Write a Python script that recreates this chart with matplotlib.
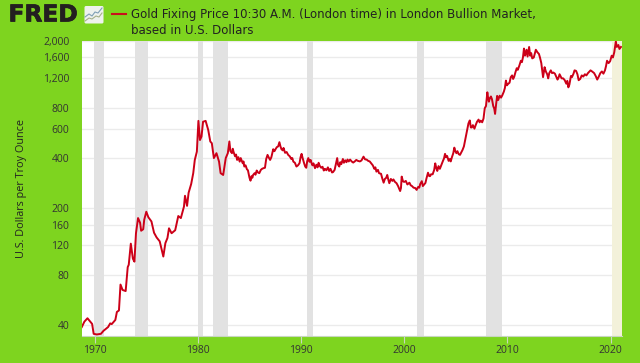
import numpy as np
import matplotlib
matplotlib.use('Agg')
import matplotlib.pyplot as plt
from matplotlib.patches import FancyBboxPatch
import matplotlib.patheffects as pe
from matplotlib.ticker import FixedLocator, FixedFormatter, NullLocator

plt.rcParams['font.family'] = ['Open Sans', 'DejaVu Sans']

# valores (año decimal, USD por onza)
years = [1968.75, 1969.0, 1969.3, 1969.5, 1969.75, 1969.9, 1970.2, 1970.6, 1970.85, 1971.3, 1971.5, 1971.65,
         1972.0, 1972.15, 1972.35, 1972.5, 1972.7, 1973.0, 1973.2, 1973.3, 1973.5, 1973.7, 1973.85, 1974.0,
         1974.2, 1974.4, 1974.5, 1974.7, 1974.8, 1975.0, 1975.2, 1975.5, 1975.75, 1976.0, 1976.3, 1976.65,
         1976.85, 1977.05, 1977.2, 1977.45, 1977.8, 1978.1, 1978.35, 1978.65, 1978.75, 1978.95, 1979.1, 1979.35,
         1979.55, 1979.7, 1979.9, 1980.05, 1980.2, 1980.35, 1980.5, 1980.75, 1981.0, 1981.2, 1981.35, 1981.55,
         1981.8, 1982.05, 1982.2, 1982.45, 1982.7, 1982.9,
         1983.05, 1983.15, 1983.3, 1983.38, 1983.45, 1983.6, 1983.7, 1983.8, 1983.92, 1984.05,
         1984.15, 1984.25, 1984.35, 1984.42, 1984.5, 1984.62, 1984.75, 1984.85, 1985.0, 1985.1,
         1985.2, 1985.28, 1985.35, 1985.5, 1985.58, 1985.7, 1985.82, 1985.95, 1986.1, 1986.22,
         1986.35, 1986.5, 1986.62, 1986.75, 1986.88, 1987.0, 1987.12, 1987.3, 1987.42, 1987.55,
         1987.65, 1987.78, 1987.9, 1988.0, 1988.1, 1988.22, 1988.3, 1988.45, 1988.6, 1988.75,
         1988.9, 1989.05, 1989.15, 1989.25, 1989.4, 1989.55, 1989.7, 1989.85, 1989.95, 1990.05,
         1990.15, 1990.28, 1990.4, 1990.5, 1990.6, 1990.7, 1990.82, 1990.92, 1991.0, 1991.1,
         1991.2, 1991.35, 1991.48, 1991.6, 1991.7, 1991.8, 1991.95, 1992.08, 1992.2, 1992.32,
         1992.45, 1992.6, 1992.72, 1992.85, 1993.0, 1993.1, 1993.25, 1993.38, 1993.5, 1993.58,
         1993.7, 1993.8, 1993.9, 1994.05, 1994.15, 1994.28, 1994.4, 1994.5, 1994.62, 1994.75,
         1994.9, 1995.05, 1995.2, 1995.35, 1995.5, 1995.7, 1995.85, 1996.05, 1996.2, 1996.35,
         1996.5, 1996.65, 1996.8, 1996.95, 1997.1, 1997.2, 1997.3, 1997.45, 1997.55, 1997.75,
         1997.85, 1998.0, 1998.12, 1998.25, 1998.35, 1998.45, 1998.55, 1998.7, 1998.85, 1998.95,
         1999.1, 1999.25, 1999.4, 1999.6, 1999.68, 1999.75, 1999.88, 2000.0, 2000.15, 2000.3,
         2000.5, 2000.62, 2000.75, 2000.9, 2001.05, 2001.2, 2001.32, 2001.45, 2001.55, 2001.7,
         2001.8, 2001.92, 2002.05, 2002.15, 2002.3, 2002.42, 2002.5, 2002.6, 2002.75, 2002.9,
         2003.0, 2003.1, 2003.2, 2003.32, 2003.45, 2003.6, 2003.75, 2003.85, 2003.95, 2004.05,
         2004.15, 2004.3, 2004.42, 2004.5, 2004.62, 2004.75, 2004.85, 2004.95, 2005.05, 2005.15,
         2005.28, 2005.4, 2005.52, 2005.65, 2005.78, 2005.9, 2006.0, 2006.1, 2006.22, 2006.35,
         2006.45, 2006.55, 2006.65, 2006.8, 2006.92, 2007.05, 2007.2, 2007.3, 2007.42, 2007.55,
         2007.68, 2007.8, 2007.92, 2008.05, 2008.12, 2008.2, 2008.3, 2008.4, 2008.5, 2008.62,
         2008.72, 2008.8, 2008.9, 2009.0, 2009.1, 2009.25, 2009.38, 2009.5, 2009.65, 2009.75,
         2009.85, 2009.95, 2010.05, 2010.2, 2010.32, 2010.45, 2010.55, 2010.65, 2010.78, 2010.9,
         2011.0, 2011.15, 2011.3, 2011.4, 2011.5, 2011.6, 2011.7, 2011.85, 2011.95, 2012.1,
         2012.2, 2012.3, 2012.4, 2012.55, 2012.75, 2012.9, 2013.05, 2013.15, 2013.28, 2013.45,
         2013.52, 2013.6, 2013.72, 2013.85, 2013.95, 2014.05, 2014.2, 2014.32, 2014.45, 2014.6,
         2014.75, 2014.85, 2014.95, 2015.05, 2015.25, 2015.4, 2015.55, 2015.7, 2015.8, 2015.9,
         2016.0, 2016.15, 2016.25, 2016.4, 2016.5, 2016.65, 2016.78, 2016.9, 2017.05, 2017.2,
         2017.35, 2017.5, 2017.65, 2017.8, 2018.05, 2018.2, 2018.4, 2018.55, 2018.7, 2018.85,
         2019.0, 2019.15, 2019.3, 2019.45, 2019.55, 2019.65, 2019.8, 2019.95, 2020.1, 2020.22,
         2020.35, 2020.5, 2020.6, 2020.75, 2020.85, 2021.0]
gold_price = [39, 42, 44, 42.5, 40.7, 35.5, 35.2, 35.5, 37, 39, 41, 40.6,
              43, 48, 49, 70, 65, 64, 89, 92, 123, 100, 96, 142,
              175, 164, 147, 150, 171, 191, 177, 167, 143, 134, 127, 103,
              124, 133, 152, 142, 148, 180, 175, 205, 238, 207, 248, 280,
              325, 390, 437, 668, 513, 538, 660, 668, 590, 503, 491, 400,
              428, 381, 325, 317, 400, 428,
              503, 440, 428, 455, 437, 410, 420, 390, 405, 381,
              400, 385, 372, 382, 356, 362, 343, 338, 305, 293,
              312, 305, 317, 325, 318, 337, 328, 325, 340, 345,
              348, 350, 395, 418, 402, 390, 405, 452, 440, 455,
              465, 470, 498, 470, 452, 445, 460, 430, 435, 418,
              410, 395, 400, 381, 375, 356, 362, 373, 405, 424,
              400, 375, 356, 350, 385, 400, 380, 390, 376, 362,
              372, 348, 365, 352, 375, 360, 350, 355, 337, 345,
              338, 352, 335, 345, 328, 330, 340, 370, 400, 365,
              356, 378, 368, 395, 375, 388, 378, 392, 382, 392,
              382, 376, 382, 390, 385, 382, 387, 408, 393, 392,
              385, 382, 372, 362, 345, 352, 332, 340, 325, 322,
              305, 285, 300, 305, 317, 298, 283, 300, 292, 298,
              288, 283, 272, 254, 265, 310, 290, 288, 292, 278,
              285, 275, 272, 266, 265, 258, 268, 266, 280, 291,
              272, 278, 284, 302, 327, 312, 312, 320, 320, 340,
              372, 350, 335, 358, 345, 365, 385, 398, 424, 405,
              412, 385, 395, 382, 405, 428, 462, 440, 428, 440,
              422, 418, 432, 448, 470, 513, 550, 590, 645, 672,
              610, 610, 630, 600, 630, 660, 680, 655, 670, 655,
              690, 795, 820, 990, 920, 870, 915, 935, 900, 820,
              790, 735, 840, 943, 890, 945, 920, 950, 1000, 1050,
              1164, 1090, 1110, 1130, 1220, 1250, 1190, 1225, 1310, 1380,
              1350, 1430, 1530, 1500, 1600, 1810, 1640, 1780, 1620, 1850,
              1640, 1700, 1580, 1600, 1780, 1720, 1680, 1600, 1480, 1220,
              1300, 1400, 1320, 1270, 1200, 1290, 1340, 1290, 1300, 1280,
              1220, 1180, 1210, 1270, 1200, 1200, 1170, 1115, 1160, 1060,
              1100, 1240, 1220, 1280, 1340, 1330, 1270, 1170, 1190, 1250,
              1230, 1270, 1250, 1290, 1340, 1320, 1290, 1240, 1180, 1230,
              1290, 1320, 1280, 1340, 1420, 1530, 1480, 1520, 1640, 1600,
              1720, 1990, 1850, 1900, 1800, 1850]

recesiones = [(1969.92, 1970.87), (1973.87, 1975.2), (1980.0, 1980.5), (1981.5, 1982.9),
              (1990.55, 1991.2), (2001.2, 2001.9), (2007.95, 2009.45)]
covid = (2020.15, 2021.1)

y_ticks = [40, 80, 120, 160, 200, 400, 600, 800, 1200, 1600, 2000]
y_labels = ['40', '80', '120', '160', '200', '400', '600', '800', '1,200', '1,600', '2,000']
x_ticks = [1970, 1980, 1990, 2000, 2010, 2020]

W, H = 640, 363
verde = '#7ed41f'

fig = plt.figure(figsize=(W / 100, H / 100), dpi=100, facecolor=verde)
ax = fig.add_axes([81.7 / W, 1 - 335.7 / H, (622 - 81.7) / W, (335.7 - 40.5) / H])
ax.set_facecolor('white')

for ini, fin in recesiones:
    ax.axvspan(ini, fin, color='#e2e2e2', lw=0, zorder=1)
ax.axvspan(covid[0], covid[1], color='#f3f1da', lw=0, zorder=1)

ax.set_yscale('log', base=2)
ax.set_xlim(1968.74, 2021.1)
ax.set_ylim(34.6, 2022)
ax.yaxis.set_major_locator(FixedLocator(y_ticks))
ax.yaxis.set_major_formatter(FixedFormatter(y_labels))
ax.yaxis.set_minor_locator(NullLocator())
ax.set_xticks(x_ticks)
ax.grid(axis='y', color='#ebebeb', lw=1, zorder=0)
ax.set_axisbelow(True)

ax.plot(years, gold_price, color='#cc0018', lw=1.4, solid_joinstyle='round', zorder=3)

for s in ['top', 'right', 'left']:
    ax.spines[s].set_visible(False)
ax.spines['bottom'].set_color('#c8d6c0')
ax.tick_params(axis='y', length=0, pad=9, labelsize=7.5, labelcolor='#333333')
ax.tick_params(axis='x', length=5, width=0.8, color='#c8d6c0', pad=2, labelsize=7.5, labelcolor='#333333')
fig.text(21.5 / W, 1 - 188 / H, 'U.S. Dollars per Troy Ounce', rotation=90, ha='center', va='center',
         fontsize=7.8, color='#222222')

# cabecera
fred = fig.text(8.5 / W, 1 - 15 / H, 'FRED', ha='left', va='center', fontsize=16.8, fontweight='bold',
                family='DejaVu Sans', color='#231f20')
fred.set_path_effects([pe.Stroke(linewidth=0.5, foreground='#231f20'), pe.Normal()])
fig.text(131 / W, 1 - 14.5 / H, 'Gold Fixing Price 10:30 A.M. (London time) in London Bullion Market,',
         ha='left', va='center', fontsize=8.5, family='DejaVu Sans', color='#222222')
fig.text(131 / W, 1 - 30 / H, 'based in U.S. Dollars', ha='left', va='center', fontsize=8.5,
         family='DejaVu Sans', color='#222222')

over = fig.add_axes([0, 0, 1, 1], facecolor='none')
over.set_xlim(0, W)
over.set_ylim(H, 0)
over.axis('off')
over.plot([112, 126], [14, 14], color='#c8101c', lw=1.5)
over.add_patch(FancyBboxPatch((84.5, 6), 19, 17.5, boxstyle='round,pad=0,rounding_size=1.5', fc='#eef2ee', ec='none'))
over.plot([85, 89, 92, 95, 98, 102], [17, 14, 16, 12, 13, 8], color='#7f9fb5', lw=0.8)
over.plot([85, 89, 92, 96, 99, 102], [21, 18, 19, 16, 17, 13], color='#a5b08a', lw=0.8)

fig.savefig('out.png', dpi=100, facecolor=verde)
